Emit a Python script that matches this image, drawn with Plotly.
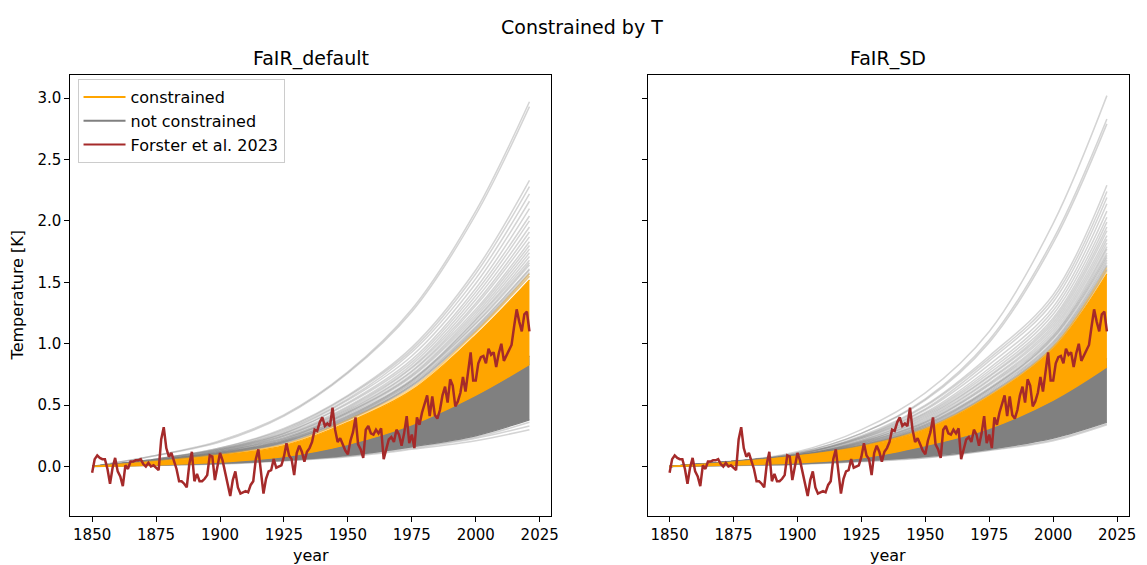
import plotly.graph_objects as go

W, H = 1147, 565

# ---------------- data ----------------
YEARS = list(range(1850, 2022))
FORSTER_2023 = [
    -0.05, 0.06, 0.09, 0.07, 0.06, 0.06, -0.02, -0.14, -0.01, 0.07,
    -0.04, -0.08, -0.16, 0.01, -0.02, 0.04, 0.04, 0.05, 0.05, 0.06,
    0.02, 0.00, 0.03, 0.00, 0.01, -0.01, -0.03, 0.22, 0.32, 0.15,
    0.08, 0.11, 0.04, -0.02, -0.12, -0.12, -0.14, -0.17, 0.02, 0.12,
    -0.12, -0.06, -0.12, -0.12, -0.10, -0.07, 0.09, 0.08, -0.11, -0.01,
    0.11, 0.05, -0.05, -0.14, -0.24, -0.11, -0.04, -0.17, -0.22, -0.21,
    -0.20, -0.21, -0.15, -0.12, 0.06, 0.14, -0.06, -0.22, -0.10, -0.04,
    -0.03, 0.06, -0.01, 0.00, 0.01, 0.08, 0.19, 0.09, 0.06, -0.07,
    0.11, 0.17, 0.12, 0.04, 0.12, 0.15, 0.20, 0.30, 0.29, 0.36,
    0.40, 0.33, 0.35, 0.33, 0.48, 0.30, 0.20, 0.23, 0.18, 0.13,
    0.10, 0.21, 0.28, 0.40, 0.18, 0.14, 0.07, 0.30, 0.33, 0.27,
    0.26, 0.30, 0.27, 0.31, 0.06, 0.15, 0.22, 0.24, 0.20, 0.30,
    0.26, 0.17, 0.27, 0.41, 0.19, 0.26, 0.15, 0.40, 0.34, 0.44,
    0.52, 0.58, 0.41, 0.57, 0.42, 0.39, 0.46, 0.58, 0.65, 0.52,
    0.71, 0.66, 0.49, 0.53, 0.60, 0.73, 0.61, 0.76, 0.93, 0.70,
    0.70, 0.84, 0.89, 0.90, 0.84, 0.96, 0.91, 0.93, 0.81, 0.92,
    1.00, 0.86, 0.90, 0.94, 0.99, 1.14, 1.28, 1.18, 1.10, 1.24,
    1.26, 1.10,
]

# ensemble members, values read at these years
KEY_YEARS = [1850, 1875, 1900, 1925, 1950, 1975, 2000, 2021]

DEF_GREY_UPPER = [
    [0, .09, .21, .42, .77, 1.28, 2.08, 2.97],
    [0, .09, .20, .41, .76, 1.26, 2.05, 2.93],
    [0, .06, .15, .31, .58, .97, 1.60, 2.33],
    [0, .06, .15, .30, .57, .95, 1.57, 2.28],
    [0, .06, .14, .29, .55, .93, 1.53, 2.22],
    [0, .06, .14, .28, .54, .90, 1.49, 2.16],
    [0, .06, .14, .27, .52, .87, 1.45, 2.10],
    [0, .05, .13, .27, .51, .85, 1.42, 2.04],
    [0, .05, .13, .26, .49, .83, 1.39, 2.00],
    [0, .05, .13, .25, .48, .81, 1.36, 1.95],
    [0, .05, .12, .25, .47, .80, 1.33, 1.91],
    [0, .05, .12, .24, .46, .78, 1.31, 1.87],
    [0, .05, .12, .23, .45, .77, 1.28, 1.83],
    [0, .05, .12, .23, .44, .75, 1.26, 1.80],
    [0, .05, .11, .22, .44, .74, 1.24, 1.77],
    [0, .05, .11, .22, .43, .73, 1.22, 1.74],
    [0, .05, .11, .21, .42, .71, 1.20, 1.71],
    [0, .05, .11, .21, .41, .70, 1.19, 1.68],
    [0, .05, .11, .21, .41, .70, 1.17, 1.66],
    [0, .05, .11, .20, .40, .69, 1.16, 1.64],
    [0, .05, .10, .20, .40, .68, 1.14, 1.61],
    [0, .05, .10, .20, .39, .67, 1.13, 1.60],
    [0, .05, .10, .20, .39, .66, 1.12, 1.58],
    [0, .05, .10, .19, .38, .66, 1.11, 1.57],
    [0, .045, .10, .19, .38, .65, 1.10, 1.55],
]
DEF_GREY_LOWER = [
    [0, .010, .020, .045, .08, .14, .21, .30],
    [0, .011, .023, .048, .085, .15, .23, .33],
    [0, .012, .025, .050, .09, .16, .24, .36],
]
DEF_GREY_BAND_LOW = [0, .012, .025, .05, .09, .16, .25, .38]
DEF_GREY_BAND_HIGH = [0, .025, .06, .12, .23, .40, .64, .90]
DEF_ORANGE_LOW = [0, .012, .035, .08, .18, .34, .58, .83]
DEF_ORANGE_HIGH = [0, .04, .09, .17, .36, .62, 1.07, 1.52]
DEF_ORANGE_FRINGE = [
    [0, .04, .09, .18, .37, .63, 1.09, 1.55],
    [0, .045, .10, .18, .38, .64, 1.10, 1.57],
]

SD_GREY_UPPER = [
    [0, .04, .12, .30, .60, 1.10, 1.98, 3.02],
    [0, .04, .11, .27, .55, 1.03, 1.85, 2.83],
    [0, .04, .11, .27, .54, 1.01, 1.82, 2.79],
    [0, .045, .10, .25, .50, .90, 1.40, 2.29],
    [0, .04, .10, .24, .49, .88, 1.37, 2.24],
    [0, .04, .10, .24, .47, .86, 1.34, 2.19],
    [0, .04, .10, .23, .46, .83, 1.30, 2.14],
    [0, .04, .10, .23, .44, .80, 1.27, 2.08],
    [0, .04, .09, .22, .43, .78, 1.24, 2.03],
    [0, .04, .09, .21, .42, .76, 1.21, 1.99],
    [0, .04, .09, .21, .41, .74, 1.19, 1.95],
    [0, .04, .09, .20, .40, .73, 1.17, 1.92],
    [0, .04, .09, .20, .39, .71, 1.15, 1.88],
    [0, .04, .09, .20, .38, .70, 1.13, 1.85],
    [0, .04, .09, .19, .37, .68, 1.11, 1.82],
    [0, .04, .09, .19, .36, .67, 1.09, 1.79],
    [0, .04, .09, .19, .36, .66, 1.07, 1.77],
    [0, .04, .09, .18, .35, .64, 1.06, 1.74],
    [0, .04, .09, .18, .34, .63, 1.05, 1.72],
    [0, .04, .09, .18, .34, .63, 1.04, 1.70],
    [0, .04, .09, .17, .33, .62, 1.02, 1.68],
    [0, .04, .09, .17, .33, .61, 1.01, 1.66],
    [0, .04, .09, .17, .32, .60, 1.00, 1.64],
    [0, .04, .09, .17, .32, .59, .99, 1.63],
    [0, .04, .09, .17, .31, .59, .98, 1.61],
    [0, .035, .085, .165, .31, .58, .97, 1.60],
]
SD_GREY_LOWER = [
    [0, .008, .018, .040, .07, .13, .21, .34],
    [0, .009, .019, .042, .075, .135, .22, .35],
]
SD_GREY_BAND_LOW = [0, .01, .02, .045, .08, .14, .23, .36]
SD_GREY_BAND_HIGH = [0, .02, .05, .10, .20, .36, .60, .88]
SD_ORANGE_LOW = [0, .012, .03, .07, .17, .31, .54, .81]
SD_ORANGE_HIGH = [0, .035, .085, .16, .30, .57, .96, 1.57]
SD_ORANGE_FRINGE = [
    [0, .035, .085, .165, .305, .575, .97, 1.59],
    [0, .035, .085, .165, .31, .58, .975, 1.62],
]

PANEL_TITLES = ["FaIR_default", "FaIR_SD"]
LEGEND_NAMES = ["constrained", "not constrained", "Forster et al. 2023"]

# ---------------- styling ----------------
ORANGE = "#FFA500"
GREY = "#808080"
GREY_A = "rgba(128,128,128,0.34)"
ORANGE_A = "rgba(255,165,0,0.35)"
BROWN = "#A52A2A"
FONT = "DejaVu Sans"

fig = go.Figure()


def line(xa, ya, ys, color, width=1.5):
    fig.add_trace(go.Scatter(
        x=KEY_YEARS, y=ys, mode="lines",
        line=dict(color=color, width=width, shape="spline"),
        showlegend=False, hoverinfo="skip", xaxis=xa, yaxis=ya))


def band(xa, ya, low, high, color):
    fig.add_trace(go.Scatter(
        x=KEY_YEARS, y=low, mode="lines",
        line=dict(color=color, width=1.2, shape="spline"),
        showlegend=False, hoverinfo="skip", xaxis=xa, yaxis=ya))
    fig.add_trace(go.Scatter(
        x=KEY_YEARS, y=high, mode="lines", fill="tonexty", fillcolor=color,
        line=dict(color=color, width=1.2, shape="spline"),
        showlegend=False, hoverinfo="skip", xaxis=xa, yaxis=ya))


panels = [
    ("x", "y", DEF_GREY_UPPER, DEF_GREY_LOWER, DEF_GREY_BAND_LOW, DEF_GREY_BAND_HIGH,
     DEF_ORANGE_LOW, DEF_ORANGE_HIGH, DEF_ORANGE_FRINGE),
    ("x2", "y2", SD_GREY_UPPER, SD_GREY_LOWER, SD_GREY_BAND_LOW, SD_GREY_BAND_HIGH,
     SD_ORANGE_LOW, SD_ORANGE_HIGH, SD_ORANGE_FRINGE),
]

for xa, ya, gu, gl, gbl, gbh, ol, oh, of in panels:
    for r in gu:
        line(xa, ya, r, GREY_A)
    for r in gl:
        line(xa, ya, r, GREY_A)
    band(xa, ya, gbl, gbh, GREY)
    band(xa, ya, ol, oh, ORANGE)
    for r in of:
        line(xa, ya, r, ORANGE_A)
    fig.add_trace(go.Scatter(
        x=YEARS, y=FORSTER_2023, mode="lines",
        line=dict(color=BROWN, width=2.5), showlegend=False,
        hoverinfo="skip", xaxis=xa, yaxis=ya))

# legend entries
for nm, col in zip(LEGEND_NAMES, [ORANGE, GREY, BROWN]):
    fig.add_trace(go.Scatter(
        x=[None], y=[None], mode="lines", name=nm,
        line=dict(color=col, width=2), xaxis="x", yaxis="y"))

# ---------------- layout ----------------
def px_x(p):
    return p / W


def px_y(p):
    return 1 - p / H


L1, R1 = 70.7, 554.7
L2, R2 = 651.7, 1135.7
TOP, BOT = 75.0, 516.0

axis_common = dict(
    showline=True, linecolor="black", linewidth=1, mirror=True,
    ticks="outside", ticklen=5, tickwidth=1, tickcolor="black",
    showgrid=False, zeroline=False,
    tickfont=dict(family=FONT, size=15, color="black"),
)
xr = [1841.45, 2029.55]
yr = [-0.403, 3.188]
xt = [1850, 1875, 1900, 1925, 1950, 1975, 2000, 2025]
yt = [0.0, 0.5, 1.0, 1.5, 2.0, 2.5, 3.0]

fig.update_layout(
    width=W, height=H,
    margin=dict(l=0, r=0, t=0, b=0),
    paper_bgcolor="white", plot_bgcolor="white",
    font=dict(family=FONT, size=15, color="black"),
    xaxis=dict(domain=[px_x(L1), px_x(R1)], range=xr, tickvals=xt, anchor="y", **axis_common),
    yaxis=dict(domain=[px_y(BOT), px_y(TOP)], range=yr, tickvals=yt, tickformat=".1f",
               anchor="x", **axis_common),
    xaxis2=dict(domain=[px_x(L2), px_x(R2)], range=xr, tickvals=xt, anchor="y2", **axis_common),
    yaxis2=dict(domain=[px_y(BOT), px_y(TOP)], range=yr, tickvals=yt, showticklabels=False,
                anchor="x2", **axis_common),
    showlegend=True,
    legend=dict(
        x=px_x(78), y=px_y(79), xanchor="left", yanchor="top",
        traceorder="normal",
        bgcolor="rgba(255,255,255,0.8)", bordercolor="#cccccc", borderwidth=1,
        font=dict(family=FONT, size=16, color="black"),
        itemwidth=42, tracegroupgap=0,
    ),
    annotations=[
        dict(text="Constrained by T", x=px_x(586), y=px_y(27), xref="paper", yref="paper",
             showarrow=False, font=dict(family=FONT, size=19, color="black"),
             xanchor="center", yanchor="middle"),
        dict(text=PANEL_TITLES[0], x=px_x((L1 + R1) / 2), y=px_y(59), xref="paper", yref="paper",
             showarrow=False, font=dict(family=FONT, size=19, color="black"),
             xanchor="center", yanchor="middle"),
        dict(text=PANEL_TITLES[1], x=px_x((L2 + R2) / 2), y=px_y(59), xref="paper", yref="paper",
             showarrow=False, font=dict(family=FONT, size=19, color="black"),
             xanchor="center", yanchor="middle"),
        dict(text="year", x=px_x((L1 + R1) / 2), y=px_y(555), xref="paper", yref="paper",
             showarrow=False, font=dict(family=FONT, size=16, color="black"),
             xanchor="center", yanchor="middle"),
        dict(text="year", x=px_x((L2 + R2) / 2), y=px_y(555), xref="paper", yref="paper",
             showarrow=False, font=dict(family=FONT, size=16, color="black"),
             xanchor="center", yanchor="middle"),
        dict(text="Temperature [K]", x=px_x(18), y=px_y((TOP + BOT) / 2), xref="paper",
             yref="paper", showarrow=False, textangle=-90,
             font=dict(family=FONT, size=16, color="black"),
             xanchor="center", yanchor="middle"),
    ],
)

fig.write_html("out.html")
